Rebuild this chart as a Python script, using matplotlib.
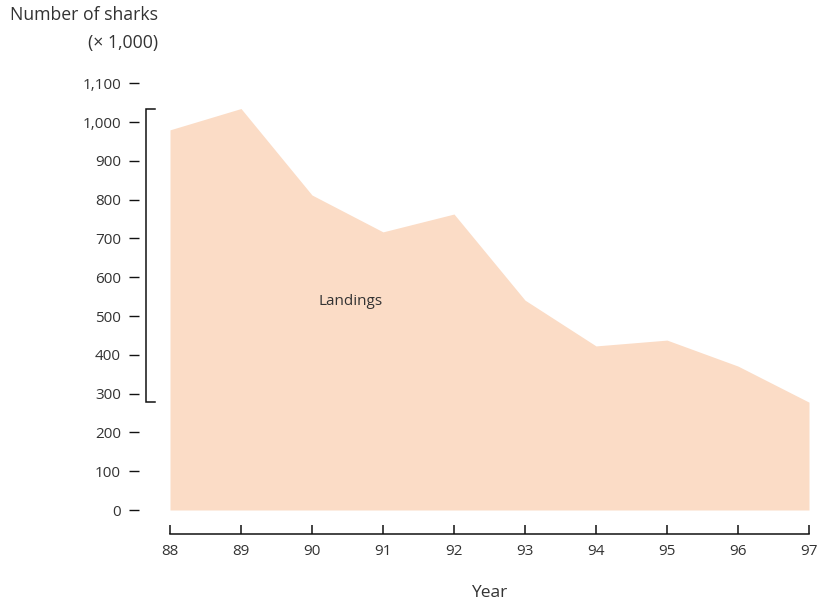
import matplotlib
matplotlib.use('Agg')
from matplotlib import pyplot as plt
import matplotlib.transforms as mtransforms

plt.rcParams['font.family'] = ['Open Sans', 'DejaVu Sans']

# data (number of sharks, x 1,000)
years = [88, 89, 90, 91, 92, 93, 94, 95, 96, 97]
landings = [980, 1035, 812, 717, 763, 541, 423, 438, 371, 278]
year_labels = ['88', '89', '90', '91', '92', '93', '94', '95', '96', '97']
y_ticks = [0, 100, 200, 300, 400, 500, 600, 700, 800, 900, 1000, 1100]

text_color = '#333333'
fill_color = '#fbdcc6'

fig = plt.figure(figsize=(8.23, 6.04), dpi=100)
W, H = 823, 604
ax = fig.add_axes([170 / W, (604 - 510) / H, (809 - 170) / W, (510 - 83.3) / H])

ax.fill_between(years, 0, landings, color=fill_color, linewidth=0)
ax.text(90.55, 538, 'Landings', fontsize=11, color=text_color,
        ha='center', va='center')

ax.set_xlim(88, 97)
ax.set_ylim(0, 1100)

for s in ['top', 'right']:
    ax.spines[s].set_visible(False)
# offsets are in points (0.72 pt per px at 100 dpi)
ax.spines['left'].set_position(('outward', 31 * 0.72))
ax.spines['left'].set_color('none')
ax.spines['bottom'].set_position(('outward', 24 * 0.72))
ax.spines['bottom'].set_linewidth(1.1)
ax.spines['bottom'].set_color('#111111')

ax.set_yticks(y_ticks)
ax.set_yticklabels([f'{v:,}' for v in y_ticks])
ax.tick_params(axis='y', direction='out', length=7, width=1.0,
               color='#111111', pad=6, labelsize=11, labelcolor=text_color)
ax.set_xticks(years)
ax.set_xticklabels(year_labels)
ax.tick_params(axis='x', direction='in', length=6.5, width=1.1,
               color='#111111', pad=7, labelsize=11, labelcolor=text_color)

# range bracket from min to max
trans = mtransforms.blended_transform_factory(ax.transAxes, ax.transData)
bx = -24 / 639
arm = -15 / 639
lo, hi = min(landings), max(landings)
ax.plot([arm, bx, bx, arm], [hi, hi, lo, lo], transform=trans,
        color='#111111', lw=1.1, clip_on=False, solid_joinstyle='miter')

ax.set_xlabel('Year', fontsize=12.5, color=text_color, labelpad=19)

fig.text(10 / W, 1 - 15 / H, 'Number of sharks', fontsize=12.7,
         color=text_color, ha='left', va='center')
fig.text(158 / W, 1 - 43 / H, '(\u00d7 1,000)', fontsize=12.7,
         color=text_color, ha='right', va='center')

fig.savefig('out.png', dpi=100)
